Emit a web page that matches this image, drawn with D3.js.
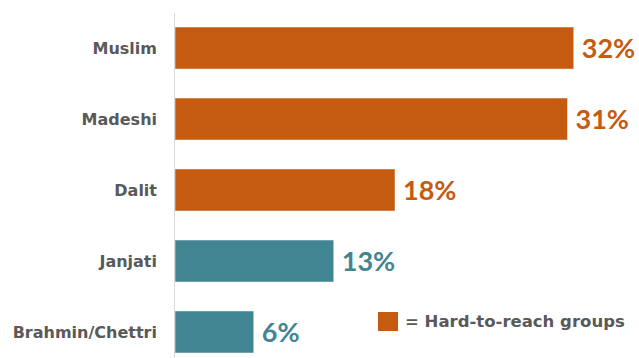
<!DOCTYPE html>
<html>
<head>
<meta charset="utf-8">
<script src="https://cdn.jsdelivr.net/npm/d3@7"></script>
<style>
  html, body { margin: 0; padding: 0; background: #fff; }
  svg text { font-family: "DejaVu Sans", sans-serif; }
</style>
</head>
<body>
<div id="chart"></div>
<script>
// categories, values (% of group), and whether they are hard-to-reach
const categories = ['Muslim', 'Madeshi', 'Dalit', 'Janjati', 'Brahmin/Chettri'];
const values = [31.9, 31.4, 17.6, 12.7, 6.3];
const hardToReach = [true, true, true, false, false];
const legendLabel = '= Hard-to-reach groups';

const W = 639, H = 358;
const colHard = '#c55a11', colOther = '#428592';

const svg = d3.select('#chart').append('svg')
  .attr('width', W).attr('height', H);

const x = d3.scaleLinear().domain([0, 40]).range([175, 675]);
const y = d3.scaleBand().domain(categories).range([27, 353]).paddingInner(0.408).paddingOuter(0);

// bars
svg.selectAll('.bar')
  .data(categories)
  .join('rect')
  .attr('class', 'bar')
  .attr('x', x(0))
  .attr('y', d => y(d))
  .attr('width', (d, i) => x(values[i]) - x(0))
  .attr('height', y.bandwidth())
  .attr('fill', (d, i) => hardToReach[i] ? colHard : colOther)
  .attr('stroke', '#fff')
  .attr('stroke-opacity', 0.5)
  .attr('stroke-width', 1);

// axis line
svg.append('line')
  .attr('x1', x(0) - 0.5).attr('x2', x(0) - 0.5)
  .attr('y1', 13).attr('y2', H)
  .attr('stroke', '#d9d9d9').attr('stroke-width', 1);

// category labels
svg.selectAll('.cat')
  .data(categories)
  .join('text')
  .attr('class', 'cat')
  .attr('x', 157)
  .attr('y', d => y(d) + y.bandwidth() / 2)
  .attr('dy', '0.36em')
  .attr('text-anchor', 'end')
  .attr('font-size', 16)
  .attr('font-weight', 'bold')
  .attr('fill', '#595959')
  .text(d => d);

// value labels
svg.selectAll('.val')
  .data(categories)
  .join('text')
  .attr('class', 'val')
  .attr('x', (d, i) => x(values[i]) + 8)
  .attr('y', d => y(d) + y.bandwidth() / 2)
  .attr('dy', '0.36em')
  .attr('font-size', 27)
  .attr('font-weight', 'bold')
  .style('font-family', 'Lato, sans-serif')
  .attr('fill', (d, i) => hardToReach[i] ? colHard : colOther)
  .text((d, i) => Math.round(values[i]) + '%');

// legend
const lg = svg.append('g').attr('transform', 'translate(378,312)');
lg.append('rect')
  .attr('width', 20).attr('height', 19)
  .attr('fill', colHard);
lg.append('text')
  .attr('x', 27).attr('y', 9)
  .attr('dy', '0.36em')
  .attr('font-size', 16.5)
  .attr('font-weight', 'bold')
  .attr('fill', '#595959')
  .text(legendLabel);
</script>
</body>
</html>
